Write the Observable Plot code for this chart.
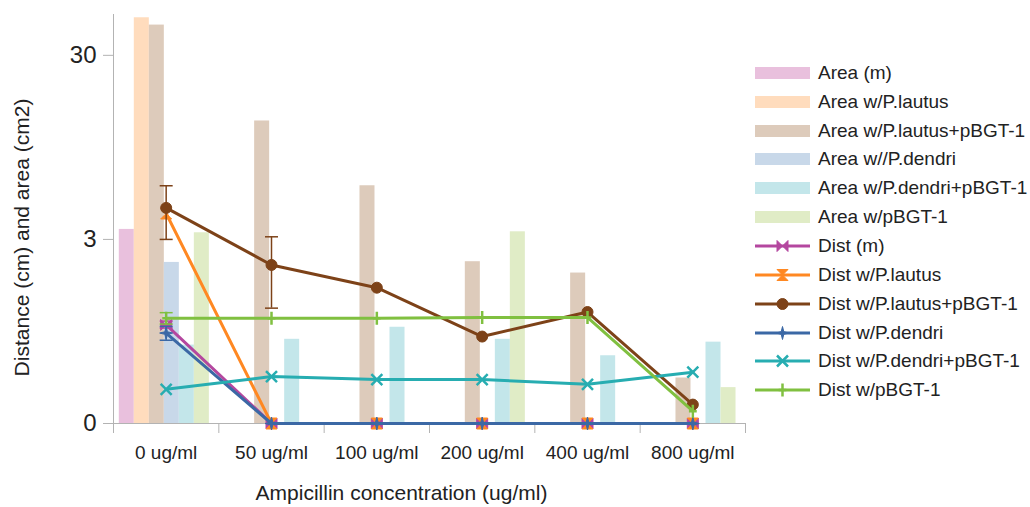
<!DOCTYPE html>
<html><head><meta charset="utf-8">
<script src="https://cdn.jsdelivr.net/npm/d3@7"></script>
<script src="https://cdn.jsdelivr.net/npm/@observablehq/plot@0.6"></script>
<style>
body{margin:0;background:#fff;font-family:"Liberation Sans",Arial,sans-serif;}
#wrap{position:relative;width:1030px;height:507px;overflow:hidden;}
#legend{position:absolute;left:755px;top:58.5px;color:#222;font-size:19px;}
.row{display:flex;align-items:center;height:28.85px;white-space:nowrap;}
.sw{width:55px;height:12px;margin-right:8px;flex:none;}
.ls{width:55px;height:16px;margin-right:8px;flex:none;display:block;}
</style></head><body>
<div id="wrap"><div id="chart"></div><div id="legend"></div></div>
<script>
// ---- data ----
const concentrations = ["0 ug/ml", "50 ug/ml", "100 ug/ml", "200 ug/ml", "400 ug/ml", "800 ug/ml"];

const areaSeries = ["Area (m)", "Area w/P.lautus", "Area w/P.lautus+pBGT-1", "Area w//P.dendri", "Area w/P.dendri+pBGT-1", "Area w/pBGT-1"];
const areaM          = [3.40, 0, 0, 0, 0, 0];
const areaLautus     = [48, 0, 0, 0, 0, 0];
const areaLautusBGT  = [43.8, 13.2, 5.87, 2.27, 1.97, 0.53];
const areaDendri     = [2.25, 0, 0, 0, 0, 0];
const areaDendriBGT  = [0.80, 0.86, 1.0, 0.86, 0.70, 0.83];
const areaBGT        = [3.26, 0, 0, 3.3, 0, 0.47];

const distSeries = ["Dist (m)", "Dist w/P.lautus", "Dist w/P.lautus+pBGT-1", "Dist w/P.dendri", "Dist w/P.dendri+pBGT-1", "Dist w/pBGT-1"];
const distM          = [1.03, 0, 0, 0, 0, 0];
const distLautus     = [4.15, 0, 0, 0, 0, 0];
const distLautusBGT  = [4.45, 2.18, 1.64, 0.89, 1.21, 0.38];
const distDendri     = [0.93, 0, 0, 0, 0, 0];
const distDendriBGT  = [0.46, 0.54, 0.52, 0.52, 0.49, 0.57];
const distBGT        = [1.12, 1.12, 1.12, 1.13, 1.13, 0.35];

// error bar limits (null = none)
const errLoM         = [0.99, null, null, null, null, null];
const errHiM         = [1.08, null, null, null, null, null];
const errLoLautusBGT = [3.0, 1.27, null, null, null, null];
const errHiLautusBGT = [5.87, 3.10, null, null, null, null];
const errLoDendri    = [0.85, null, null, null, null, null];
const errHiDendri    = [1.01, null, null, null, null, null];
const errLoBGT       = [1.04, null, null, null, null, null];
const errHiBGT       = [1.20, null, null, null, null, null];

const yTicks = [0.3, 3, 30];

// ---- styles ----
const areaColors = ["#e9c0dd", "#ffdcbd", "#ddcbbb", "#c8d8e9", "#c3e6ea", "#e0ecc6"];
const lineColors = ["#b4479f", "#ff8822", "#7d4218", "#3b68a5", "#27adb1", "#80c040"];

const R = s => Math.sqrt(s / Math.PI);
const bowtie = {draw(c, s) { const r = R(s); c.moveTo(-r, -r); c.lineTo(r, r); c.lineTo(r, -r); c.lineTo(-r, r); c.closePath(); }};
const hourglass = {draw(c, s) { const r = R(s); c.moveTo(-r, -r); c.lineTo(r, -r); c.lineTo(-r, r); c.lineTo(r, r); c.closePath(); }};
const circle = {draw(c, s) { const r = R(s); c.moveTo(r, 0); c.arc(0, 0, r, 0, 2 * Math.PI); c.closePath(); }};
const star4 = {draw(c, s) { const r = R(s), a = r * 0.2; c.moveTo(0, -r); c.lineTo(a, -a); c.lineTo(r, 0); c.lineTo(a, a); c.lineTo(0, r); c.lineTo(-a, a); c.lineTo(-r, 0); c.lineTo(-a, -a); c.closePath(); }};
const xmark = {draw(c, s) { const r = R(s); c.moveTo(-r, -r); c.lineTo(r, r); c.moveTo(r, -r); c.lineTo(-r, r); }};
const plusmark = {draw(c, s) { const r = R(s); c.moveTo(0, -r); c.lineTo(0, r); c.moveTo(-r * 0.6, 0); c.lineTo(r * 0.6, 0); }};
const capmark = {draw(c, s) { const r = R(s); c.moveTo(-r, 0); c.lineTo(r, 0); }};

const symbols = [bowtie, hourglass, circle, star4, xmark, plusmark];
const filled = [true, true, true, true, false, false];
const symR = [5.5, 5.5, 5.5, 6.5, 5.5, 6.5];

const areaValues = [areaM, areaLautus, areaLautusBGT, areaDendri, areaDendriBGT, areaBGT];
const distValues = [distM, distLautus, distLautusBGT, distDendri, distDendriBGT, distBGT];
const errLo = [errLoM, null, errLoLautusBGT, errLoDendri, null, errLoBGT];
const errHi = [errHiM, null, errHiLautusBGT, errHiDendri, null, errHiBGT];

const inner = d3.scaleBand().domain(d3.range(areaSeries.length)).range([0.055, 0.91]);

const marks = [];
areaSeries.forEach((s, si) => {
  const data = areaValues[si].map((v, ci) => ({ci, v})).filter(d => d.v > 0);
  marks.push(Plot.rect(data, {
    x1: d => d.ci + inner(si),
    x2: d => d.ci + inner(si) + inner.bandwidth(),
    y1: 0, y2: "v", fill: areaColors[si]
  }));
});
marks.push(
  Plot.frame({anchor: "left", stroke: "#b3b3b3"}),
  Plot.frame({anchor: "bottom", stroke: "#b3b3b3"}),
  Plot.axisY({ticks: yTicks, tickFormat: d3.format(".0f"), tickSize: 10, tickPadding: 7, fontSize: 24, stroke: "#b3b3b3", fill: "#222", label: null}),
  Plot.axisX({ticks: d3.range(concentrations.length + 1), tickFormat: () => "", tickSize: 10, stroke: "#b3b3b3", label: null}),
  Plot.axisX({ticks: concentrations.map((c, i) => i + 0.5), tickFormat: v => concentrations[Math.floor(v)], tickSize: 0, tickPadding: 22, fontSize: 19, fill: "#222", label: null})
);
distSeries.forEach((s, si) => {
  const data = distValues[si].map((v, ci) => ({ci, v}));
  const col = lineColors[si];
  marks.push(Plot.line(data, {x: d => d.ci + 0.5, y: "v", stroke: col, strokeWidth: 3}));
  if (errLo[si]) {
    const ed = errLo[si].map((lo, ci) => ({ci, lo, hi: errHi[si][ci]})).filter(d => d.lo != null);
    marks.push(Plot.ruleX(ed, {x: d => d.ci + 0.5, y1: "lo", y2: "hi", stroke: col, strokeWidth: 1.5}));
    marks.push(Plot.dot(ed, {x: d => d.ci + 0.5, y: "lo", symbol: capmark, r: 6.5, stroke: col, strokeWidth: 1.5, fill: "none"}));
    marks.push(Plot.dot(ed, {x: d => d.ci + 0.5, y: "hi", symbol: capmark, r: 6.5, stroke: col, strokeWidth: 1.5, fill: "none"}));
  }
  marks.push(Plot.dot(data, {
    x: d => d.ci + 0.5, y: "v", symbol: symbols[si], r: symR[si],
    fill: filled[si] ? col : "none", stroke: col, strokeWidth: filled[si] ? 1 : 2.5
  }));
});
marks.push(
  Plot.text(["Distance (cm) and area (cm2)"], {text: d => d, frameAnchor: "left", rotate: -90, dx: -91, dy: 18.5, fontSize: 21, fill: "#222", textAnchor: "middle", lineAnchor: "middle"}),
  Plot.text(["Ampicillin concentration (ug/ml)"], {text: d => d, frameAnchor: "bottom", dx: -28, dy: 70, fontSize: 21, fill: "#222", textAnchor: "middle", lineAnchor: "middle"})
);

const chart = Plot.plot({
  width: 1030, height: 507,
  marginLeft: 113, marginRight: 285, marginTop: 14, marginBottom: 84,
  style: {fontFamily: "'Liberation Sans', Arial, sans-serif", background: "white", color: "#222", overflow: "visible"},
  x: {type: "linear", domain: [0, concentrations.length], label: null},
  y: {type: "log", domain: [0.3, 50], clamp: true, label: null},
  marks
});
document.getElementById("chart").appendChild(chart);

// ---- legend ----
const legend = d3.select("#legend");
areaSeries.forEach((s, i) => {
  const row = legend.append("div").attr("class", "row");
  row.append("div").attr("class", "sw").style("background", areaColors[i]);
  row.append("span").text(s);
});
distSeries.forEach((s, i) => {
  const row = legend.append("div").attr("class", "row");
  const svg = row.append("svg").attr("class", "ls").attr("width", 55).attr("height", 16);
  svg.append("line").attr("x1", 0).attr("x2", 55).attr("y1", 8).attr("y2", 8).attr("stroke", lineColors[i]).attr("stroke-width", 3);
  svg.append("path").attr("transform", "translate(27.5,8)")
    .attr("d", d3.symbol(symbols[i], Math.PI * symR[i] * symR[i])())
    .attr("fill", filled[i] ? lineColors[i] : "none")
    .attr("stroke", lineColors[i]).attr("stroke-width", filled[i] ? 1 : 2.5);
  row.append("span").text(s);
});
</script>
</body></html>
